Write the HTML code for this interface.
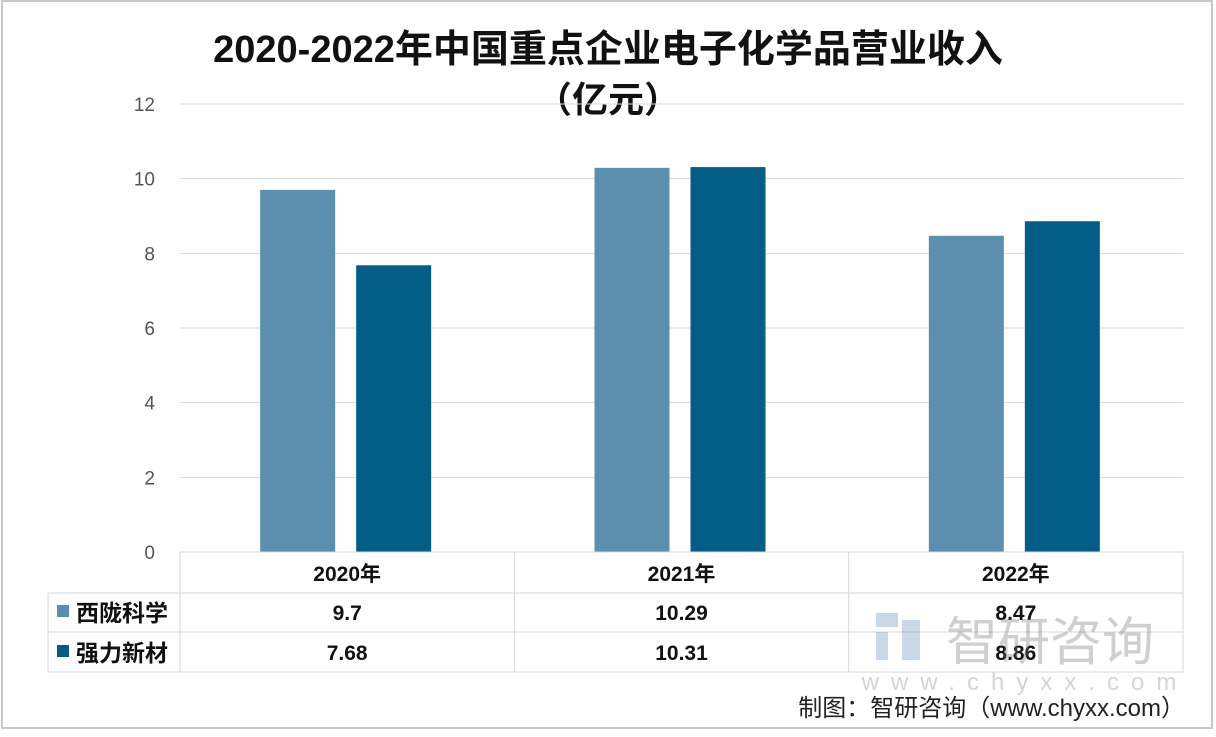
<!DOCTYPE html>
<html><head><meta charset="utf-8"><style>
body{margin:0;background:#fff;}
svg text{font-family:"Liberation Sans","Noto Sans CJK SC",sans-serif;}
</style></head><body>
<svg width="1216" height="732" viewBox="0 0 1216 732">
<rect x="2" y="1" width="1210" height="727" fill="#fff" stroke="#c8c8c8" stroke-width="2"/>
<text x="608" y="62" text-anchor="middle" font-size="38" font-weight="bold" fill="#111">2020-2022年中国重点企业电子化学品营业收入</text>
<text x="608" y="112" text-anchor="middle" font-size="36" font-weight="bold" fill="#111">（亿元）</text>
<g id="grid"></g><g id="bars"></g><g id="table"></g>
<g opacity="0.35">
<rect x="876" y="613" width="22" height="14" fill="#6b8fc0"/><rect x="876" y="632" width="12" height="28" fill="#6b8fc0"/><rect x="902" y="620" width="18" height="40" fill="#6b8fc0"/>
<text x="1050" y="660" text-anchor="middle" font-size="52" fill="#777">智研咨询</text>
<text x="1025" y="690" text-anchor="middle" font-size="24" fill="#888" letter-spacing="12">www.chyxx.com</text>
</g>
<text x="1185" y="716" text-anchor="end" font-size="24" fill="#222">制图：智研咨询（www.chyxx.com）</text>
</svg>
<script>
const categories=["2020年","2021年","2022年"];
const seriesNames=["西陇科学","强力新材"];
const seriesA=[9.7,10.29,8.47];
const seriesB=[7.68,10.31,8.86];
const labelsA=["9.7","10.29","8.47"];
const labelsB=["7.68","10.31","8.86"];
const ticks=[0,2,4,6,8,10,12];
const NS="http://www.w3.org/2000/svg";
const X0=180,X1=1183,Y0=552,Y1=104,MAX=12;
const y=v=>Y0-(v/MAX)*(Y0-Y1);
const cw=(X1-X0)/categories.length;
function mk(t,a,p,txt){const e=document.createElementNS(NS,t);for(const k in a)e.setAttribute(k,a[k]);if(txt!=null)e.textContent=txt;p.appendChild(e);return e;}
const grid=document.getElementById('grid'),bars=document.getElementById('bars'),tbl=document.getElementById('table');
ticks.forEach(t=>{
 const l=mk('line',{x1:X0,x2:X1,y1:y(t),y2:y(t),stroke:'#d9d9d9','stroke-width':1},grid);
 
 
 const tx=mk('text',{x:155,y:y(t)+7,'text-anchor':'end','font-size':19,fill:'#555'},grid,String(t));
 
 
});
const colors=['#5b8fad','#045d86'];
const bw=75;
categories.forEach((c,i)=>{
 const cx=X0+cw*i+cw/2;
 [seriesA[i],seriesB[i]].forEach((v,j)=>{
  const bx=j===0?cx-87:cx+9;
  const r=mk('rect',{x:bx,y:y(v),width:bw,height:Y0-y(v),fill:colors[j]},bars);
  
  
 });
});
const st={stroke:'#d6d6d6','stroke-width':1,fill:'none'};
mk('line',Object.assign({x1:X0,x2:X1,y1:552,y2:552},st),tbl);
mk('line',Object.assign({x1:48,x2:X1,y1:593,y2:593},st),tbl);
mk('line',Object.assign({x1:48,x2:X1,y1:632,y2:632},st),tbl);
mk('line',Object.assign({x1:48,x2:X1,y1:672,y2:672},st),tbl);
mk('line',Object.assign({x1:48,x2:48,y1:593,y2:672},st),tbl);
for(let i=0;i<=categories.length;i++){const xx=X0+cw*i;mk('line',Object.assign({x1:xx,x2:xx,y1:552,y2:672},st),tbl);}
categories.forEach((c,i)=>{
 const cx=X0+cw*i+cw/2;
 const h=mk('text',{x:cx,y:581,'text-anchor':'middle','font-size':21,'font-weight':'bold',fill:'#111'},tbl,c);
 
 
 const a=mk('text',{x:cx,y:620,'text-anchor':'middle','font-size':21,'font-weight':'bold',fill:'#111'},tbl,labelsA[i]);
 
 
 const b=mk('text',{x:cx,y:660,'text-anchor':'middle','font-size':21,'font-weight':'bold',fill:'#111'},tbl,labelsB[i]);
 
 
});
seriesNames.forEach((n,j)=>{
 const yy=j===0?612:652;
 const k=mk('rect',{x:57,y:yy-7,width:12,height:12,fill:colors[j]},tbl);
 
 
 const t=mk('text',{x:76,y:yy+9,'font-size':23,'font-weight':'bold',fill:'#111'},tbl,n);
 
 
});
</script>
</body></html>
